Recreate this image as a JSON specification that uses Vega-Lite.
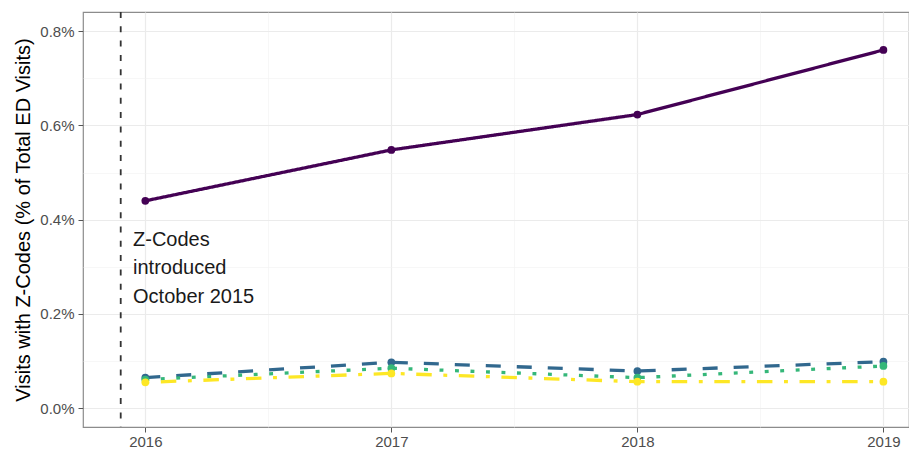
{
  "$schema": "https://vega.github.io/schema/vega-lite/v6.json",
  "width": 826,
  "height": 415,
  "autosize": {"type": "none"},
  "padding": {"left": 83, "top": 12, "right": 0, "bottom": 24},
  "background": "white",
  "config": {
    "font": "Liberation Sans",
    "view": {"stroke": "#8c8c8c", "strokeWidth": 1.2},
    "axis": {
      "domain": false,
      "gridColor": "#EBEBEB",
      "tickColor": "#555555",
      "labelColor": "#4D4D4D",
      "labelFontSize": 15,
      "titleColor": "#000000",
      "titleFontWeight": "normal"
    }
  },
  "datasets": {
    "series": [
      {"group": "Series A", "year": 2016, "pct": 0.440},
      {"group": "Series A", "year": 2017, "pct": 0.548},
      {"group": "Series A", "year": 2018, "pct": 0.623},
      {"group": "Series A", "year": 2019, "pct": 0.760},
      {"group": "Series B", "year": 2016, "pct": 0.065},
      {"group": "Series B", "year": 2017, "pct": 0.0976},
      {"group": "Series B", "year": 2018, "pct": 0.079},
      {"group": "Series B", "year": 2019, "pct": 0.0988},
      {"group": "Series C", "year": 2016, "pct": 0.061},
      {"group": "Series C", "year": 2017, "pct": 0.085},
      {"group": "Series C", "year": 2018, "pct": 0.065},
      {"group": "Series C", "year": 2019, "pct": 0.0897},
      {"group": "Series D", "year": 2016, "pct": 0.055},
      {"group": "Series D", "year": 2017, "pct": 0.074},
      {"group": "Series D", "year": 2018, "pct": 0.0564},
      {"group": "Series D", "year": 2019, "pct": 0.0564}
    ]
  },
  "encoding": {
    "x": {
      "field": "year",
      "type": "quantitative",
      "scale": {"domain": [2015.7467, 2019.104], "nice": false, "zero": false},
      "axis": {
        "title": null,
        "values": [2016, 2016.5, 2017, 2017.5, 2018, 2018.5, 2019],
        "labelExpr": "datum.value % 1 == 0 ? format(datum.value, 'd') : ''",
        "tickSize": 5,
        "labelPadding": 2,
        "tickOpacity": {"condition": {"test": "datum.value % 1 != 0", "value": 0}, "value": 1},
        "gridWidth": {"condition": {"test": "datum.value % 1 != 0", "value": 0.6}, "value": 1.2},
        "gridColor": {"condition": {"test": "datum.value % 1 != 0", "value": "#F2F2F2"}, "value": "#EBEBEB"}
      }
    },
    "y": {
      "field": "pct",
      "type": "quantitative",
      "scale": {"domain": [-0.0397, 0.8405], "nice": false, "zero": false},
      "axis": {
        "title": "Visits with Z-Codes (% of Total ED Visits)",
        "titleFontSize": 20,
        "titlePadding": 6,
        "values": [0, 0.1, 0.2, 0.3, 0.4, 0.5, 0.6, 0.7, 0.8],
        "labelExpr": "round(datum.value * 10) % 2 == 0 ? format(datum.value, '.1f') + '%' : ''",
        "tickSize": 5,
        "labelPadding": 4,
        "tickOpacity": {"condition": {"test": "round(datum.value * 10) % 2 == 1", "value": 0}, "value": 1},
        "gridWidth": {"condition": {"test": "round(datum.value * 10) % 2 == 1", "value": 0.6}, "value": 1.2},
        "gridColor": {"condition": {"test": "round(datum.value * 10) % 2 == 1", "value": "#F2F2F2"}, "value": "#EBEBEB"}
      }
    }
  },
  "layer": [
    {
      "data": {"values": [{"x": 2015.9}]},
      "mark": {"type": "rule", "color": "#333333", "strokeWidth": 1.8, "strokeDash": [6, 8.3]},
      "encoding": {"x": {"field": "x", "type": "quantitative"}, "y": null}
    },
    {
      "data": {"values": [{"x": 2015.95, "y": 0.357, "label": "Z-Codes\nintroduced\nOctober 2015"}]},
      "mark": {"type": "text", "align": "left", "baseline": "middle", "fontSize": 20, "lineHeight": 28.3, "lineBreak": "\n", "color": "#1a1a1a"},
      "encoding": {
        "x": {"field": "x", "type": "quantitative"},
        "y": {"field": "y", "type": "quantitative"},
        "text": {"field": "label"}
      }
    },
    {
      "data": {"name": "series"},
      "mark": {"type": "line", "strokeWidth": 3.3, "strokeCap": "butt"},
      "encoding": {
        "color": {
          "field": "group",
          "type": "nominal",
          "scale": {"domain": ["Series A", "Series B", "Series C", "Series D"], "range": ["#440154", "#31688E", "#35B779", "#FDE725"]},
          "legend": null
        },
        "strokeDash": {
          "field": "group",
          "type": "nominal",
          "scale": {"domain": ["Series A", "Series B", "Series C", "Series D"], "range": [[1, 0], [15, 16], [3.9, 11.6], [3.9, 11.6, 15.5, 11.6]]},
          "legend": null
        }
      }
    },
    {
      "data": {"name": "series"},
      "mark": {"type": "point", "filled": true, "size": 60, "opacity": 1},
      "encoding": {
        "color": {
          "field": "group",
          "type": "nominal",
          "scale": {"domain": ["Series A", "Series B", "Series C", "Series D"], "range": ["#440154", "#31688E", "#35B779", "#FDE725"]},
          "legend": null
        }
      }
    }
  ]
}
